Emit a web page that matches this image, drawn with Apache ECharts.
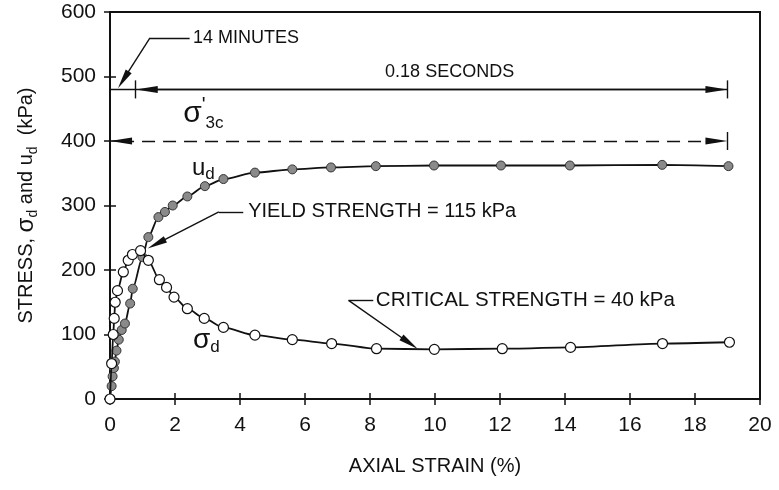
<!DOCTYPE html>
<html>
<head>
<meta charset="utf-8">
<script src="https://cdn.jsdelivr.net/npm/echarts@6/dist/echarts.min.js"></script>
<style>
html, body { margin: 0; padding: 0; background: #fff; }
#chart { width: 779px; height: 490px; }
</style>
</head>
<body>
<div id="chart"></div>
<script>
// sigma_d, open circles
var sdStrain = [0, 0.05, 0.1, 0.13, 0.16, 0.23, 0.41, 0.56, 0.69, 0.94, 1.18, 1.52, 1.74, 1.97, 2.38, 2.9, 3.49, 4.46, 5.61, 6.82, 8.2, 9.98, 12.07, 14.17, 17.0, 19.06];
var sdStress = [0, 55, 100, 125, 150, 168, 197, 215, 224, 230, 215, 185, 173, 158, 140, 125, 111, 99, 92, 86, 78, 77, 78, 80, 86, 88];
// u_d, filled circles
var udStrain = [0, 0.05, 0.08, 0.12, 0.15, 0.2, 0.27, 0.36, 0.46, 0.62, 0.7, 1.0, 1.18, 1.49, 1.69, 1.93, 2.38, 2.92, 3.49, 4.46, 5.61, 6.8, 8.18, 9.97, 12.03, 14.15, 16.99, 19.03];
var udStress = [0, 20, 35, 48, 58, 75, 92, 107, 117, 148, 171, 220, 251, 282, 290, 300, 314, 330, 341, 351, 356, 359, 361, 362, 362, 362, 363, 361];

var xTicks = [0, 2, 4, 6, 8, 10, 12, 14, 16, 18, 20];
var yTicks = [0, 100, 200, 300, 400, 500, 600];

var FONT = '"Liberation Sans", Arial, sans-serif';
var INK = '#111';

function zip(a, b) {
    var out = [];
    for (var i = 0; i < a.length; i++) out.push([a[i], b[i]]);
    return out;
}

var chart = echarts.init(document.getElementById('chart'));

function xAx(pos, labels) {
    return {
        type: 'value', position: pos,
        min: xTicks[0], max: xTicks[xTicks.length - 1], interval: xTicks[1] - xTicks[0],
        axisLine: { show: true, lineStyle: { color: INK, width: 2 } },
        axisTick: { show: true, inside: true, length: 6, lineStyle: { color: INK, width: 1.5 } },
        axisLabel: { show: labels, margin: 16, fontSize: 21, color: INK, fontFamily: FONT },
        splitLine: { show: false }
    };
}
function yAx(pos, labels) {
    return {
        type: 'value', position: pos,
        min: yTicks[0], max: yTicks[yTicks.length - 1], interval: yTicks[1] - yTicks[0],
        axisLine: { show: true, lineStyle: { color: INK, width: 2 } },
        axisTick: { show: true, inside: true, length: 6, lineStyle: { color: INK, width: 1.5 } },
        axisLabel: { show: labels, margin: 14, fontSize: 21, color: INK, fontFamily: FONT },
        splitLine: { show: false }
    };
}

var xMain = xAx('bottom', true);
xMain.name = 'AXIAL STRAIN (%)';
xMain.nameLocation = 'middle';
xMain.nameGap = 57;
xMain.nameTextStyle = { fontSize: 20, color: INK, fontFamily: FONT };

var yMain = yAx('left', true);
yMain.name = 'STRESS, {s|σ}{sub|d} and u{sub|d}  (kPa)';
yMain.nameLocation = 'middle';
yMain.nameRotate = 90;
yMain.nameGap = 84;
yMain.nameTextStyle = {
    fontSize: 20, color: INK, fontFamily: FONT, lineHeight: 28, verticalAlign: 'middle',
    rich: {
        s: { fontSize: 24, color: INK, fontFamily: FONT, lineHeight: 28, verticalAlign: 'middle' },
        sub: { fontSize: 14, color: INK, fontFamily: FONT, verticalAlign: 'bottom', lineHeight: 14 }
    }
};

var ARROW = [7, 22];
var notesLines = [
    // 480 kPa time line
    [{ coord: [0, 480] }, { coord: [19, 480] }],
    [{ coord: [1.13, 480], symbol: 'triangle', symbolSize: ARROW }, { coord: [18.66, 480], symbol: 'triangle', symbolSize: ARROW }],
    [{ coord: [0.79, 466] }, { coord: [0.79, 494] }],
    [{ coord: [19, 466] }, { coord: [19, 494] }],
    // sigma'3c dashed line
    [{ coord: [0.34, 400], symbol: 'triangle', symbolSize: ARROW, lineStyle: { type: [13, 8] } },
     { coord: [18.66, 400], symbol: 'triangle', symbolSize: ARROW }],
    [{ coord: [19, 386] }, { coord: [19, 414] }],
    // 14 minutes leader
    [{ coord: [2.45, 560] }, { coord: [1.23, 560] }],
    [{ coord: [1.23, 560] }, { coord: [0.41, 495], symbol: 'triangle', symbolSize: [7, 20] }],
    // yield leader
    [{ coord: [4.1, 290] }, { coord: [3.35, 290] }],
    [{ coord: [3.35, 290] }, { coord: [1.43, 240.5], symbol: 'triangle', symbolSize: [7, 20] }],
    // critical leader
    [{ coord: [8.1, 153] }, { coord: [7.34, 153] }],
    [{ coord: [7.34, 153] }, { coord: [9.22, 86.5], symbol: 'triangle', symbolSize: [7, 20] }]
];

chart.setOption({
    animation: false,
    grid: { left: 110, right: 19, top: 12, bottom: 91, show: true, borderColor: INK, borderWidth: 2 },
    xAxis: [xMain, xAx('top', false)],
    yAxis: [yMain, yAx('right', false)],
    series: [
        {
            type: 'line', data: [],
            markLine: {
                animation: false, symbol: ['none', 'none'],
                label: { show: false },
                lineStyle: { color: INK, width: 1.4, type: 'solid' },
                data: notesLines
            }
        },
        { type: 'line', data: [], xAxisIndex: 1, yAxisIndex: 1 },
        {
            name: 'ud', type: 'line', data: zip(udStrain, udStress),
            smooth: 0.25, smoothMonotone: 'x',
            symbol: 'circle', symbolSize: 9,
            lineStyle: { color: INK, width: 1.8 },
            itemStyle: { color: '#8a8a8a', borderColor: '#333', borderWidth: 1 },
            z: 3
        },
        {
            name: 'sd', type: 'line', data: zip(sdStrain, sdStress),
            smooth: 0.25, smoothMonotone: 'x',
            symbol: 'circle', symbolSize: 10,
            lineStyle: { color: INK, width: 1.8 },
            itemStyle: { color: '#fff', borderColor: INK, borderWidth: 1.2 },
            z: 4
        }
    ]
});

function px(x, y) { return chart.convertToPixel({ gridIndex: 0 }, [x, y]); }

// text annotations, placed in data coordinates
var subStyle = { fontSize: 17, fill: INK, fontFamily: FONT, verticalAlign: 'bottom', lineHeight: 17 };
var notes = [
    { at: [2.55, 560], text: '14 MINUTES', size: 18, align: 'left' },
    { at: [10.45, 507], text: '0.18 SECONDS', size: 18, align: 'center' },
    { at: [4.25, 290], text: 'YIELD STRENGTH = 115 kPa', size: 20, align: 'left' },
    { at: [8.18, 153], text: 'CRITICAL STRENGTH = 40 kPa', size: 20.5, align: 'left' },
    { at: [2.25, 442], text: '{s|σ}{p|\'}{sub|3c}', size: 28, align: 'left',
      rich: { s: { fontSize: 30, fill: INK, fontFamily: FONT, lineHeight: 36, verticalAlign: 'middle' },
              p: { fontSize: 20, fill: INK, fontFamily: FONT, verticalAlign: 'top', lineHeight: 20 },
              sub: subStyle } },
    { at: [2.52, 358], text: 'u{sub|d}', size: 24, align: 'left',
      rich: { sub: subStyle } },
    { at: [2.55, 91], text: '{s|σ}{sub|d}', size: 24, align: 'left',
      rich: { s: { fontSize: 28, fill: INK, fontFamily: FONT, lineHeight: 32, verticalAlign: 'middle' },
              sub: subStyle } }
];
var graphics = notes.map(function (n) {
    var p = px(n.at[0], n.at[1]);
    return {
        type: 'text', x: p[0], y: p[1],
        style: {
            text: n.text, fontSize: n.size, fontFamily: FONT, fill: INK,
            align: n.align, verticalAlign: 'middle', lineHeight: n.size + 6,
            rich: n.rich || {}
        }
    };
});
chart.setOption({ graphic: graphics });
</script>
</body>
</html>
